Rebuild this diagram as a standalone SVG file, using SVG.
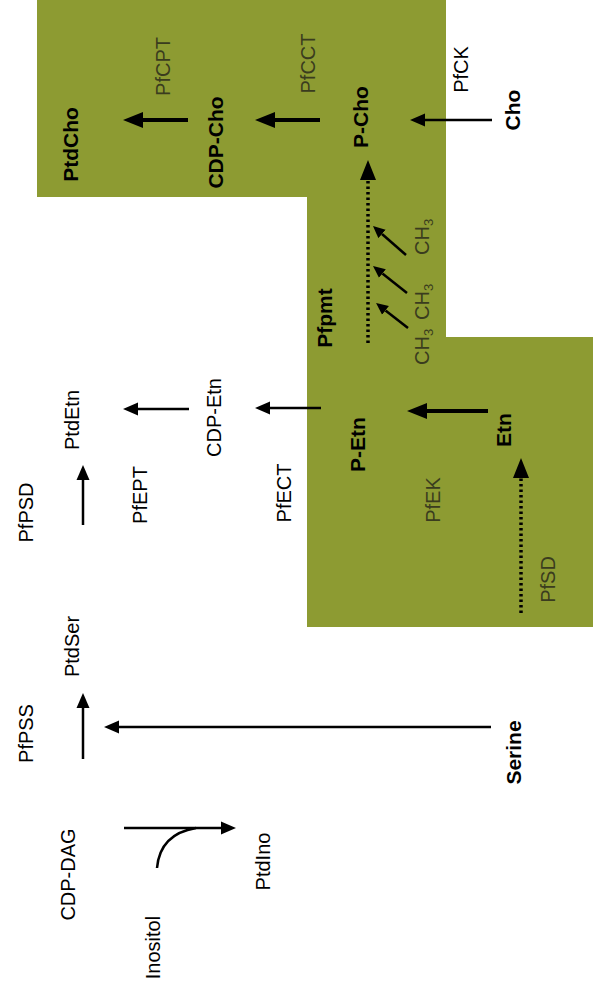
<svg xmlns="http://www.w3.org/2000/svg" width="593" height="994" viewBox="0 0 593 994">
<style>
text{font-family:"Liberation Sans",Arial,Helvetica,sans-serif;text-anchor:middle}
.b{font-weight:bold;font-size:21px;fill:#000}
.r{font-size:20px;fill:#000}
.g{font-size:20px;fill:#3a3c1e}
.ln{fill:none;stroke:#000;stroke-width:2.5}
.bd{fill:none;stroke:#000;stroke-width:4}
.dot{fill:none;stroke:#000;stroke-width:3.5;stroke-dasharray:2.5 3}
</style>
<defs>
<marker id="ah" markerUnits="userSpaceOnUse" viewBox="0 -7 15 14" markerWidth="15" markerHeight="14" refX="0" refY="0" orient="auto"><path d="M0,-6.5 L15,0 L0,6.5 z" fill="#000"/></marker>
<marker id="ahb" markerUnits="userSpaceOnUse" viewBox="0 -8.5 20 17" markerWidth="20" markerHeight="17" refX="0" refY="0" orient="auto"><path d="M0,-8 L20,0 L0,8 z" fill="#000"/></marker>
<marker id="ahs" markerUnits="userSpaceOnUse" viewBox="0 -6 12 12" markerWidth="12" markerHeight="12" refX="0" refY="0" orient="auto"><path d="M0,-5.5 L12,0 L0,5.5 z" fill="#000"/></marker>
</defs>
<rect width="593" height="994" fill="#fff"/>
<g id="compartment">
<path d="M37,0 H446 V337 H593 V627 H307 V197 H37 Z" fill="#8d9b32"/>
</g>
<g id="connectors">
<path class="bd" d="M188,120 H143" marker-end="url(#ahb)"/>
<path class="bd" d="M320,120 H275" marker-end="url(#ahb)"/>
<path class="ln" stroke-width="2" d="M492,120 H425" marker-end="url(#ah)"/>
<path class="dot" d="M368,343 V180" marker-end="url(#ahb)"/>
<path class="ln" d="M406,255 L382,234" marker-end="url(#ahs)"/>
<path class="ln" d="M407,293 L382.4,273.5" marker-end="url(#ahs)"/>
<path class="ln" d="M408,328 L385.5,310.4" marker-end="url(#ahs)"/>
<path class="bd" d="M488,411 H427" marker-end="url(#ahb)"/>
<path class="dot" d="M521,613 V478" marker-end="url(#ahb)"/>
<path class="ln" d="M321,408 H270" marker-end="url(#ah)"/>
<path class="ln" d="M189,409 H138" marker-end="url(#ah)"/>
<path class="ln" d="M83,525 V480" marker-end="url(#ah)"/>
<path class="ln" d="M83,759 V708" marker-end="url(#ah)"/>
<path class="ln" stroke-width="2" d="M491,727 H119" marker-end="url(#ah)"/>
<path class="ln" d="M124,828 H221" marker-end="url(#ah)"/>
<path class="ln" stroke-width="2" d="M157,868 Q160,834 196,828"/>
</g>
<g id="PtdCho"><text class="b" transform="translate(78,144.5) rotate(-90)">PtdCho</text></g>
<g id="PfCPT"><text class="g" transform="translate(170,66.5) rotate(-90)">PfCPT</text></g>
<g id="CDP-Cho"><text class="b" transform="translate(223,142.5) rotate(-90)">CDP-Cho</text></g>
<g id="PfCCT"><text class="g" transform="translate(315,63.5) rotate(-90)">PfCCT</text></g>
<g id="P-Cho"><text class="b" transform="translate(368,117) rotate(-90)">P-Cho</text></g>
<g id="PfCK"><text class="r" transform="translate(468,69.5) rotate(-90)">PfCK</text></g>
<g id="Cho"><text class="b" transform="translate(520,110) rotate(-90)">Cho</text></g>
<g id="Pfpmt"><text class="b" transform="translate(332,318) rotate(-90)">Pfpmt</text></g>
<g id="CH3-1"><text class="g" style="text-anchor:start" transform="translate(429,255) rotate(-90)">CH<tspan font-size="13" dy="4">3</tspan></text></g>
<g id="CH3-2"><text class="g" style="text-anchor:start" transform="translate(429,320) rotate(-90)">CH<tspan font-size="13" dy="4">3</tspan></text></g>
<g id="CH3-3"><text class="g" style="text-anchor:start" transform="translate(429,365) rotate(-90)">CH<tspan font-size="13" dy="4">3</tspan></text></g>
<g id="P-Etn"><text class="b" transform="translate(365,444.5) rotate(-90)">P-Etn</text></g>
<g id="PfEK"><text class="g" transform="translate(440,500) rotate(-90)">PfEK</text></g>
<g id="Etn"><text class="b" transform="translate(511,430) rotate(-90)">Etn</text></g>
<g id="PfSD"><text class="g" transform="translate(555,579.5) rotate(-90)">PfSD</text></g>
<g id="PtdEtn"><text class="r" transform="translate(79,420) rotate(-90)">PtdEtn</text></g>
<g id="PfPSD"><text class="r" transform="translate(33,512.5) rotate(-90)">PfPSD</text></g>
<g id="PfEPT"><text class="r" transform="translate(147,495) rotate(-90)">PfEPT</text></g>
<g id="CDP-Etn"><text class="r" transform="translate(221,417.5) rotate(-90)">CDP-Etn</text></g>
<g id="PfECT"><text class="r" transform="translate(291,493) rotate(-90)">PfECT</text></g>
<g id="PtdSer"><text class="r" transform="translate(79,646.5) rotate(-90)">PtdSer</text></g>
<g id="PfPSS"><text class="r" transform="translate(33,733.5) rotate(-90)">PfPSS</text></g>
<g id="Serine"><text class="b" transform="translate(521,752.5) rotate(-90)">Serine</text></g>
<g id="CDP-DAG"><text class="r" transform="translate(75,874.5) rotate(-90)">CDP-DAG</text></g>
<g id="Inositol"><text class="r" transform="translate(160,947.5) rotate(-90)">Inositol</text></g>
<g id="PtdIno"><text class="r" transform="translate(270,861.5) rotate(-90)">PtdIno</text></g>
</svg>
